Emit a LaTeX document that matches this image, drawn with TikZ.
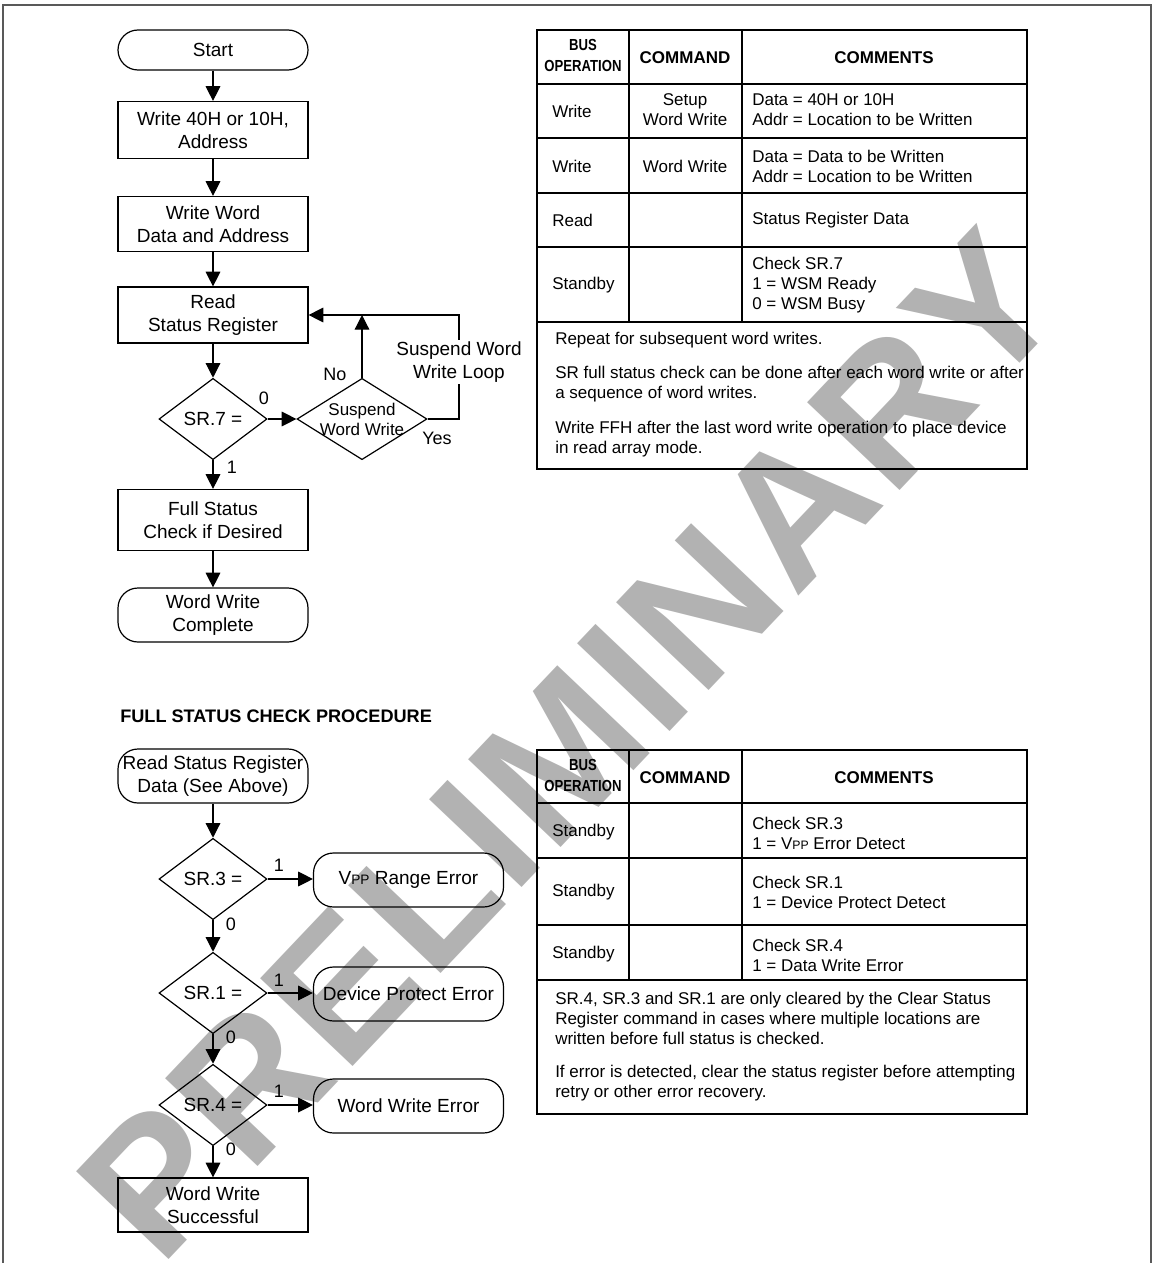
\documentclass[tikz,border=0pt]{standalone}
\usepackage{fontspec}
\setmainfont{Liberation Sans}
\usetikzlibrary{shapes.geometric,arrows.meta,positioning}

\newcommand{\vpp}{V\scalebox{0.72}{PP}}
\newcommand{\wsp}{\hspace{3.5pt}}

\begin{document}
\begin{tikzpicture}
  [x=0.75pt,y=-0.75pt,
   every node/.style={inner sep=0pt},
   flow/.style={draw,line width=0.9pt,minimum width=142.5pt,align=center,font=\fontsize{14.25}{17}\selectfont},
   proc/.style={flow,rectangle},
   term/.style={flow,rectangle,rounded corners=15pt},
   dec/.style={draw,line width=0.9pt,diamond,inner sep=0pt,minimum width=81pt,minimum height=61pt},
   txt/.style={align=center,font=\fontsize{14.25}{17}\selectfont},
   lbl/.style={font=\fontsize{13.5}{15}\selectfont},
   cell/.style={align=left,anchor=west,font=\fontsize{12.75}{15}\selectfont},
   cellc/.style={align=center,font=\fontsize{12.75}{15}\selectfont},
   head/.style={align=center,font=\bfseries\fontsize{12.75}{15}\selectfont},
   narrow/.style={align=center,font=\bfseries\fontsize{12}{15.75}\selectfont},
   link/.style={line width=0.9pt,-{Triangle[length=11pt,width=11pt]}},
   grid/.style={line width=1.3pt}]
  \useasboundingbox (0,0) rectangle (1154,1263);

  % watermark behind everything
  \node[rotate=46.5,text=black!30,font=\bfseries\fontsize{139}{139}\selectfont] (prelim) at (570,745)
    {P\wsp R\wsp E\wsp L\wsp I\wsp M\wsp I\wsp N\wsp A\wsp R\wsp Y};

  % frame
  \draw[black!65,line width=1.2pt] (3,1263) -- (3,5) -- (1151,5) -- (1151,1263);

  % word write flow
  \node[term,minimum height=30pt] (start) at (213,50) {Start};
  \node[proc,minimum height=42.75pt] (w40) at (213,130) {Write 40H or 10H,\\Address};
  \node[proc,minimum height=41.25pt] (wword) at (213,224) {Write Word\\Data and Address};
  \node[proc,minimum height=42pt] (rsr) at (213,315) {Read\\Status Register};
  \node[dec] (sr7) at (213,419) {};
  \node[txt] (sr7t) at (sr7) {SR.7 =};
  \node[dec,minimum width=97.5pt] (susp) at (362,419) {};
  \node[txt,font=\fontsize{12.75}{15}\selectfont] (suspt) at (susp) {Suspend\\Word Write};
  \node[proc,minimum height=45.75pt] (fsc) at (213,520) {Full Status\\Check if Desired};
  \node[term,minimum height=40.5pt] (wwc) at (213,615) {Word Write\\Complete};
  \coordinate (loopc) at (459,315);

  \foreach \from/\to in {start/w40,w40/wword,wword/rsr,rsr/sr7,sr7/susp,sr7/fsc,fsc/wwc}
    \draw[link] (\from) -- (\to);
  \draw[link] (susp.east) -| (loopc) -- (rsr.east);
  \draw[link] (susp.north) -- (susp.north |- rsr.east);

  \node[txt,fill=white,inner sep=1pt] (loopt) at (459,362) {Suspend Word\\Write Loop};
  \node[lbl] (l0) at (264,398) {0};
  \node[lbl] (lno) at (335,374) {No};
  \node[lbl] (lyes) at (437,438) {Yes};
  \node[lbl] (l1) at (232,467) {1};

  % table one
  \draw[grid] (537,30) rectangle (1027,469);
  \foreach \y in {84,138,193,247,322}
    \draw[grid] (537,\y) -- (1027,\y);
  \foreach \x in {629,742}
    \draw[grid] (\x,30) -- (\x,322);
  \node[narrow] (h1a) at (583,57) {\scalebox{0.82}[1]{\begin{tabular}{@{}c@{}}BUS\\OPERATION\end{tabular}}};
  \node[head] (h1b) at (685,58) {COMMAND};
  \node[head] (h1c) at (884,58) {COMMENTS};
  \node[cell] (op1) at (552,111) {Write};
  \node[cellc] (cmd1) at (685,110) {Setup\\Word Write};
  \node[cell] (cm1) at (752,110) {Data = 40H or 10H\\Addr = Location to be Written};
  \node[cell] (op2) at (552,166) {Write};
  \node[cellc] (cmd2) at (685,166) {Word Write};
  \node[cell] (cm2) at (752,166) {Data = Data to be Written\\Addr = Location to be Written};
  \node[cell] (op3) at (552,220) {Read};
  \node[cell] (cm3) at (752,220) {Status Register Data};
  \node[cell] (op4) at (552,285) {Standby};
  \node[cell] (cm4) at (752,285) {Check SR.7\\1 = WSM Ready\\0 = WSM Busy};
  \node[cell] (nt1) at (555,340) {Repeat for subsequent word writes.};
  \node[cell] (nt2) at (555,384) {SR full status check can be done after each word write or after\\a sequence of word writes.};
  \node[cell] (nt3) at (555,439) {Write FFH after the last word write operation to place device\\in read array mode.};

  % full status check
  \node[anchor=west,font=\bfseries\fontsize{13.6}{15}\selectfont] (fsctitle) at (120,716) {FULL STATUS CHECK PROCEDURE};

  \node[term,minimum height=40.5pt] (rsd) at (213,776) {Read Status Register\\Data (See Above)};
  \node[dec] (sr3) at (213,879) {};
  \node[txt] (sr3t) at (sr3) {SR.3 =};
  \node[dec] (sr1) at (213,993) {};
  \node[txt] (sr1t) at (sr1) {SR.1 =};
  \node[dec] (sr4) at (213,1105) {};
  \node[txt] (sr4t) at (sr4) {SR.4 =};
  \node[term,minimum height=40.5pt] (vpp) at (408.5,880) {\vpp{} Range Error};
  \node[term,minimum height=40.5pt] (dpe) at (408.5,994) {Device Protect Error};
  \node[term,minimum height=40.5pt] (wwe) at (408.5,1106) {Word Write Error};
  \node[proc,minimum height=40.5pt] (wws) at (213,1205) {Word Write\\Successful};

  \foreach \from/\to in {rsd/sr3,sr3/sr1,sr1/sr4,sr4/wws}
    \draw[link] (\from) -- (\to);
  \foreach \from/\to in {sr3/vpp,sr1/dpe,sr4/wwe}
    \draw[link] (\from.east) -- (\from.east -| \to.west);

  \node[lbl] (e3) at (279,865) {1};
  \node[lbl] (e1) at (279,980) {1};
  \node[lbl] (e4) at (279,1091) {1};
  \node[lbl] (z3) at (231,924) {0};
  \node[lbl] (z1) at (231,1037) {0};
  \node[lbl] (z4) at (231,1149) {0};

  % table two
  \draw[grid] (537,750) rectangle (1027,1114);
  \foreach \y in {803,858,925,980}
    \draw[grid] (537,\y) -- (1027,\y);
  \foreach \x in {629,742}
    \draw[grid] (\x,750) -- (\x,980);
  \node[narrow] (h2a) at (583,777) {\scalebox{0.82}[1]{\begin{tabular}{@{}c@{}}BUS\\OPERATION\end{tabular}}};
  \node[head] (h2b) at (685,778) {COMMAND};
  \node[head] (h2c) at (884,778) {COMMENTS};
  \node[cell] (sb1) at (552,832) {Standby};
  \node[cell] (ck1) at (752,833) {Check SR.3\\1 = \vpp{} Error Detect};
  \node[cell] (sb2) at (552,892) {Standby};
  \node[cell] (ck2) at (752,892) {Check SR.1\\1 = Device Protect Detect};
  \node[cell] (sb3) at (552,954) {Standby};
  \node[cell] (ck3) at (752,955) {Check SR.4\\1 = Data Write Error};
  \node[cell] (nt4) at (555,1018) {SR.4, SR.3 and SR.1 are only cleared by the Clear Status\\Register command in cases where multiple locations are\\written before full status is checked.};
  \node[cell] (nt5) at (555,1083) {If error is detected, clear the status register before attempting\\retry or other error recovery.};
\end{tikzpicture}
\end{document}
